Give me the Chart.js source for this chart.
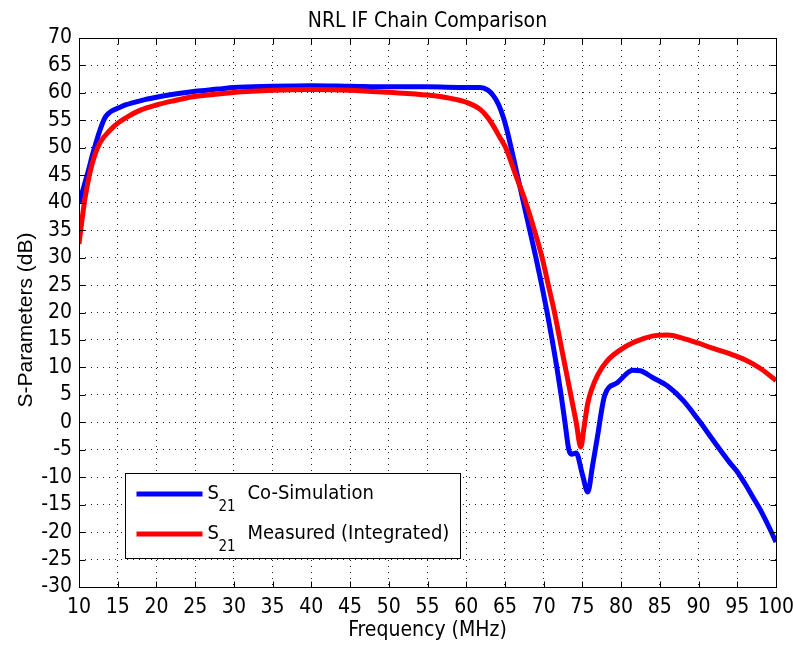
<!DOCTYPE html>
<html><head><meta charset="utf-8">
<script src="https://cdn.jsdelivr.net/npm/chart.js@4"></script>
<style>html,body{margin:0;padding:0;background:#fff}</style>
</head><body>
<canvas id="c" width="793" height="651"></canvas>
<script>
const chartTitle = 'NRL IF Chain Comparison';
const xAxisTitle = 'Frequency (MHz)';
const yAxisTitle = 'S-Parameters (dB)';
const seriesNames = ['Co-Simulation', 'Measured (Integrated)'];
const xTicks = [10,15,20,25,30,35,40,45,50,55,60,65,70,75,80,85,90,95,100];
const yTicks = [-30,-25,-20,-15,-10,-5,0,5,10,15,20,25,30,35,40,45,50,55,60,65,70];

// S21 Co-Simulation (blue)
const simFreq = [10,10.6,11.2,11.8,12.7,13.4,14,15.3,16,18,20,22,25,28,30,35,40,45,50,55,60,61.8,62.8,63.5,64.2,64.8,65.3,65.8,66.6,67.4,68.2,69.0,69.75,70.45,71.1,71.7,72.25,72.75,73.25,73.6,74.2,75,75.7,76.3,76.9,77.9,79.5,81.5,82.5,84,86,88,90,92,94,95,96,97,98,99,100];
const simDb   = [40,42.8,45.8,49,53.2,55.6,56.5,57.4,57.8,58.6,59.2,59.7,60.3,60.7,61.0,61.2,61.3,61.2,61.1,61.1,61.0,61.0,60.5,59.5,57.8,55.5,53,50,45,40,35,30,25,20,15,10,5,0,-5,-5.8,-5.6,-9.5,-12.7,-8,-3,5,7.2,9.5,9.4,8.2,6.6,4.0,0.4,-3.5,-7.3,-9,-11.2,-13.6,-16,-18.8,-21.8];

// S21 Measured (Integrated) (red)
const measFreq = [10,10.4,10.8,11.4,12,12.7,14,15,16.2,18,20,22,24.7,28,31,35,40,45,50,55,58,60,61.8,62.8,63.5,64.3,65.1,66.4,67.7,68.8,69.8,70.6,71.4,72.1,72.8,73.5,74.2,74.8,75.2,75.7,76.2,77,78.2,79.9,81.5,82.8,84,86,88,90,92,94,96,98,100];
const measDb   = [32.5,37,41,45.4,48.5,50.9,53.2,54.5,55.6,56.9,57.8,58.5,59.3,59.8,60.2,60.5,60.6,60.5,60.1,59.6,59.0,58.3,57,55.5,54,52,50,45,40,35,30,25,20,15,10,5,0,-4.5,-1,3.5,6,8.7,11.2,13.2,14.5,15.2,15.7,15.9,15.3,14.4,13.4,12.5,11.4,9.8,7.6];

const seriesColors = ['#0000ff', '#ff0000'];
const NARROW = '"DejaVu Sans Condensed", "Liberation Sans Narrow", sans-serif';
const NORMAL = '"Liberation Sans", Arial, sans-serif';

const boxPlugin = {
  id: 'matlabBox',
  beforeDraw(chart) {
    const ctx = chart.ctx;
    ctx.save();
    ctx.fillStyle = '#fff';
    ctx.fillRect(0, 0, chart.width, chart.height);
    ctx.restore();
  },
  afterDraw(chart) {
    const ctx = chart.ctx;
    const ca = chart.chartArea;
    const xs = chart.scales.x, ys = chart.scales.y;
    ctx.save();
    ctx.fillStyle = '#000';
    // title
    ctx.font = '21px ' + NARROW;
    ctx.textAlign = 'center';
    ctx.textBaseline = 'alphabetic';
    ctx.fillText(chartTitle, (ca.left + ca.right) / 2, 27);
    // y axis title
    ctx.save();
    ctx.translate(26, 320);
    ctx.rotate(-Math.PI / 2);
    ctx.font = '21px ' + NORMAL;
    ctx.textBaseline = 'middle';
    ctx.fillText(yAxisTitle, 0, 0);
    ctx.restore();
    // box + inward ticks
    ctx.strokeStyle = '#000';
    ctx.lineWidth = 1;
    const L = Math.round(ca.left) + 0.5, R = Math.round(ca.right) + 0.5, T = Math.round(ca.top) + 0.5, B = Math.round(ca.bottom) + 0.5;
    ctx.strokeRect(L, T, R - L, B - T);
    const tl = 6;
    ctx.beginPath();
    xTicks.forEach(v => {
      const px = Math.round(xs.getPixelForValue(v)) + 0.5;
      ctx.moveTo(px, B); ctx.lineTo(px, B - tl);
      ctx.moveTo(px, T); ctx.lineTo(px, T + tl);
    });
    yTicks.forEach(v => {
      const py = Math.round(ys.getPixelForValue(v)) + 0.5;
      ctx.moveTo(L, py); ctx.lineTo(L + tl, py);
      ctx.moveTo(R, py); ctx.lineTo(R - tl, py);
    });
    ctx.stroke();
    // legend
    const bx = Math.round(ca.left) + 46.5, by = Math.round(ca.bottom) - 113.5, bw = 335, bh = 85;
    ctx.fillStyle = '#fff';
    ctx.fillRect(bx, by, bw, bh);
    ctx.strokeRect(bx, by, bw, bh);
    const rows = [by + 20.5, by + 60.5];
    seriesNames.forEach((name, i) => {
      const ly = rows[i];
      ctx.strokeStyle = seriesColors[i];
      ctx.lineWidth = 5;
      ctx.beginPath();
      ctx.moveTo(bx + 11, ly); ctx.lineTo(bx + 77, ly);
      ctx.stroke();
      ctx.fillStyle = '#000';
      ctx.textAlign = 'left';
      ctx.textBaseline = 'alphabetic';
      ctx.font = '20px ' + NARROW;
      ctx.fillText('S', bx + 82, ly + 5);
      ctx.font = '15px ' + NARROW;
      ctx.fillText('21', bx + 93, ly + 17);
      ctx.font = '20px ' + NARROW;
      ctx.fillText(name, bx + 122, ly + 5);
    });
    ctx.restore();
  }
};

const mk = (f, d) => f.map((x, i) => ({ x: x, y: d[i] }));

new Chart(document.getElementById('c'), {
  type: 'line',
  data: {
    datasets: [
      { label: 'S21 ' + seriesNames[1], data: mk(measFreq, measDb), borderColor: seriesColors[1], borderWidth: 5, pointRadius: 0, cubicInterpolationMode: 'monotone', order: 0 },
      { label: 'S21 ' + seriesNames[0], data: mk(simFreq, simDb), borderColor: seriesColors[0], borderWidth: 5, pointRadius: 0, cubicInterpolationMode: 'monotone', order: 1 }
    ]
  },
  options: {
    responsive: false,
    devicePixelRatio: 1,
    animation: false,
    layout: { padding: { top: 38, right: 17, left: 0, bottom: 0 } },
    plugins: { legend: { display: false }, title: { display: false }, tooltip: { enabled: false } },
    scales: {
      x: {
        type: 'linear', min: 10, max: 100,
        afterBuildTicks: s => { s.ticks = xTicks.map(v => ({ value: v })); },
        afterFit: s => { s.height = 64; s.paddingLeft = 0; s.paddingRight = 0; },
        ticks: { autoSkip: false, maxRotation: 0, color: '#000', font: { family: NARROW, size: 21 }, padding: 8 },
        grid: { color: '#222', lineWidth: 1, drawTicks: false },
        border: { display: false, dash: [1, 5] },
        title: { display: true, text: xAxisTitle, color: '#000', font: { family: NARROW, size: 21 }, padding: { top: 0, bottom: 8 } }
      },
      y: {
        type: 'linear', min: -30, max: 70,
        afterBuildTicks: s => { s.ticks = yTicks.map(v => ({ value: v })); },
        afterFit: s => { s.width = 79; s.paddingTop = 0; s.paddingBottom = 0; },
        ticks: { autoSkip: false, color: '#000', font: { family: NARROW, size: 21 }, padding: 7 },
        grid: { color: '#222', lineWidth: 1, drawTicks: false },
        border: { display: false, dash: [1, 5] },
        title: { display: false }
      }
    }
  },
  plugins: [boxPlugin]
});
</script>
</body></html>
